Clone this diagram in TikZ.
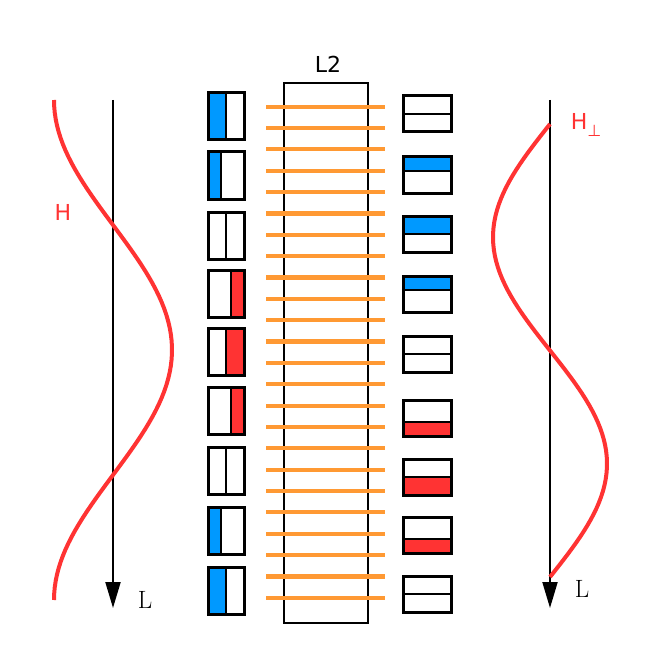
\documentclass[tikz,border=0pt]{standalone}
\usepackage{fontspec}
\usepackage{xcolor}
\usepackage{tikz}
\usetikzlibrary{arrows.meta, positioning}
\newfontfamily\dejavu{DejaVu Sans}
\definecolor{hblue}{RGB}{0,153,255}
\definecolor{hred}{RGB}{255,51,51}
\definecolor{wireorange}{RGB}{255,153,51}

\begin{document}
\begin{tikzpicture}[
    x=1pt, y=-1pt,
    cell/.style={draw, line width=3pt},
    divider/.style={draw, line width=1.5pt},
    wire/.style={draw=wireorange, line width=4.2pt},
    wave/.style={draw=hred, line width=4pt},
    axis/.style={line width=2pt, -{Triangle[length=26pt, width=15pt]}},
    chain/.style={draw, line width=2.6pt},
    sanslabel/.style={font=\dejavu\fontsize{22}{26}\selectfont, inner sep=0pt},
    hlabel/.style={sanslabel, text=hred},
    axlabel/.style={font=\fontsize{25}{28}\selectfont, inner sep=0pt},
]
\useasboundingbox (0,0) rectangle (661,671);
% field profiles along L
\coordinate (ltop) at (113,100);
\coordinate (lend) at (113,608);
\coordinate (rtop) at (550,100);
\coordinate (rend) at (550,608);
\draw[axis] (ltop) -- (lend);
\draw[axis] (rtop) -- (rend);
\draw[wave] plot[domain=100:600, samples=80, variable=\t] ({113-59*cos(0.72*(\t-100))}, \t);
\draw[wave] plot[domain=124:577, samples=80, variable=\t] ({550-57*sin(0.7947*(\t-124))}, \t);
\node[hlabel] (hleft) at (63,212) {H};
\node[hlabel] (hperp) at (586,125) {H\raisebox{-0.3em}{\fontsize{16}{16}\selectfont ⊥}};
\node[axlabel] (lleft) at (145,600) {L};
\node[axlabel] (lright) at (582,589) {L};
% L2 chain
\draw[chain] (284,83) rectangle (368,623);
\node[sanslabel] (ltwo) at (328,64) {L2};
\foreach \k in {0,...,23}
    \draw[wire] (266,{106.7+21.35*\k}) -- (385,{106.7+21.35*\k});
% left spins: top / fill / from / to
\foreach \y/\c/\xa/\xb in {93/hblue/208/226, 152/hblue/208/221, 212/white/208/226,
    270/hred/231/244, 328/hred/226/244, 387/hred/231/244,
    447/white/208/226, 507/hblue/208/221, 567/hblue/208/226} {
    \draw[divider, fill=\c] (\xa,\y) rectangle (\xb,\y+47);
    \draw[cell] (208,\y) rectangle (244,\y+47);
}
% right spins: top / fill / from / to
\foreach \y/\c/\ya/\yb in {96/white/0/18, 157/hblue/0/14, 216/hblue/0/18,
    276/hblue/0/14, 336/white/0/18, 400/hred/22/36,
    459/hred/18/36, 517/hred/22/36, 576/white/0/18} {
    \draw[divider, fill=\c] (403,\y+\ya) rectangle (451,\y+\yb);
    \draw[cell] (403,\y) rectangle (451,\y+36);
}
\end{tikzpicture}
\end{document}
